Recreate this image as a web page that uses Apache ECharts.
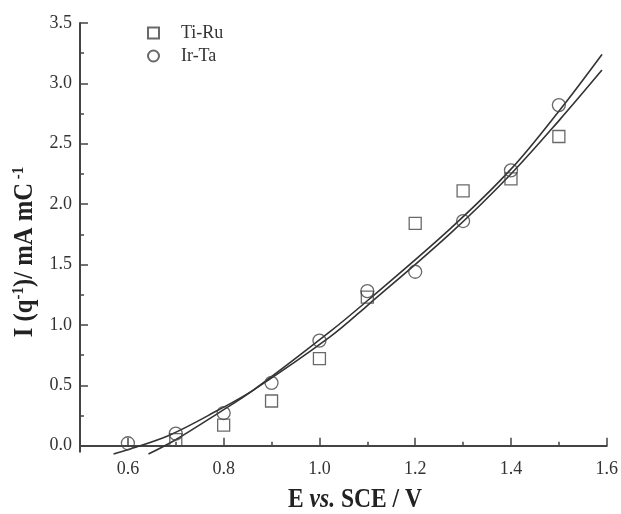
<!DOCTYPE html>
<html>
<head>
<meta charset="utf-8">
<script src="https://cdn.jsdelivr.net/npm/echarts@6/dist/echarts.min.js"></script>
<style>
html,body{margin:0;padding:0;background:#fff;}
#chart{width:621px;height:514px;}
</style>
</head>
<body>
<div id="chart"></div>
<script>
// ---- data ----
const potentials = [0.6, 0.7, 0.8, 0.9, 1.0, 1.1, 1.2, 1.3, 1.4, 1.5];
const tiRu = [null, 0.05, 0.17, 0.37, 0.72, 1.23, 1.84, 2.11, 2.21, 2.56];
const irTa = [0.02, 0.10, 0.27, 0.52, 0.87, 1.28, 1.44, 1.86, 2.28, 2.82];
// fitted curves
const fitA_E = [0.570, 0.598, 0.688, 0.789, 0.862, 1.022, 1.10, 1.274, 1.40, 1.502, 1.59];
const fitA_I = [-0.069, -0.036, 0.089, 0.295, 0.46, 0.90, 1.16, 1.76, 2.25, 2.70, 3.11];
const fitB_E = [0.643, 0.699, 0.789, 0.862, 1.022, 1.10, 1.274, 1.40, 1.502, 1.59];
const fitB_I = [-0.069, 0.047, 0.27, 0.46, 0.944, 1.20, 1.80, 2.29, 2.78, 3.24];
// ticks
const xMajor = [0.6, 0.8, 1.0, 1.2, 1.4, 1.6];
const xMinor = [0.7, 0.9, 1.1, 1.3, 1.5];
const yMajor = [0.0, 0.5, 1.0, 1.5, 2.0, 2.5, 3.0, 3.5];
const yMinor = [0.25, 0.75, 1.25, 1.75, 2.25, 2.75, 3.25];

const pair = (xs, ys) => xs.map((x, i) => [x, ys[i]]).filter(p => p[1] !== null);

const SERIF = '"Liberation Serif", "Times New Roman", serif';
const AX = '#444';
const TXT = '#333';

const chart = echarts.init(document.getElementById('chart'), null, {renderer: 'canvas'});

const xBase = {type: 'value', min: 0.5, max: 1.6, interval: 0.1, position: 'bottom', splitLine: {show: false}};
const yBase = {type: 'value', min: -0.05, max: 3.5, interval: 0.05, position: 'left', splitLine: {show: false}};

chart.setOption({
  animation: false,
  backgroundColor: '#fff',
  grid: {left: 80, right: 14, top: 23, bottom: 62.3},
  legend: {
    orient: 'vertical', left: 142, top: 19, itemWidth: 11, itemHeight: 11, itemGap: 5,
    data: ['Ti-Ru', 'Ir-Ta'],
    textStyle: {fontFamily: SERIF, fontSize: 18, color: TXT, padding: [0, 0, 0, 17]}
  },
  xAxis: [
    Object.assign({}, xBase, {
      axisLine: {show: true, lineStyle: {color: AX, width: 2}},
      axisTick: {show: true, inside: true, length: 8, lineStyle: {color: AX, width: 1.5}, customValues: xMajor},
      axisLabel: {show: true, margin: 9, customValues: xMajor, formatter: v => v.toFixed(1),
        fontFamily: SERIF, fontSize: 18, color: TXT}
    }),
    Object.assign({}, xBase, {
      axisLine: {show: false},
      axisTick: {show: true, inside: true, length: 4, lineStyle: {color: AX, width: 1.5}, customValues: xMinor},
      axisLabel: {show: false}
    })
  ],
  yAxis: [
    Object.assign({}, yBase, {
      axisLine: {show: true, lineStyle: {color: AX, width: 2}},
      axisTick: {show: true, inside: true, length: 8, lineStyle: {color: AX, width: 1.5}, customValues: yMajor},
      axisLabel: {show: true, margin: 8, customValues: yMajor, formatter: v => v.toFixed(1),
        fontFamily: SERIF, fontSize: 18, color: TXT}
    }),
    Object.assign({}, yBase, {
      axisLine: {show: false},
      axisTick: {show: true, inside: true, length: 4, lineStyle: {color: AX, width: 1.5}, customValues: yMinor},
      axisLabel: {show: false}
    })
  ],
  graphic: [
    {
      type: 'text', x: 355, y: 500, scaleX: 0.84,
      style: {
        text: '{b|E }{i|vs.}{b| SCE / V}', align: 'center', verticalAlign: 'middle',
        rich: {
          b: {fontFamily: SERIF, fontWeight: 'bold', fontSize: 28, fill: '#222'},
          i: {fontFamily: SERIF, fontWeight: 'bold', fontStyle: 'italic', fontSize: 28, fill: '#222'}
        }
      }
    },
    {
      type: 'text', x: 25, y: 252, scaleX: 0.88, rotation: Math.PI / 2,
      style: {
        text: '{m|I (q}{s|-1}{m|)/ mA mC}{s| -1}', align: 'center', verticalAlign: 'middle',
        rich: {
          m: {fontFamily: SERIF, fontWeight: 'bold', fontSize: 28, lineHeight: 30, fill: '#222'},
          s: {fontFamily: SERIF, fontWeight: 'bold', fontSize: 17, lineHeight: 17, verticalAlign: 'top', fill: '#222'}
        }
      }
    }
  ],
  series: [
    {
      name: 'Ti-Ru fit', type: 'line', smooth: 0.35, showSymbol: false, clip: false,
      data: pair(fitA_E, fitA_I), lineStyle: {color: '#333', width: 1.6}, z: 2
    },
    {
      name: 'Ir-Ta fit', type: 'line', smooth: 0.35, showSymbol: false, clip: false,
      data: pair(fitB_E, fitB_I), lineStyle: {color: '#333', width: 1.6}, z: 2
    },
    {
      name: 'Ti-Ru', type: 'scatter', symbol: 'rect', symbolSize: 12,
      data: pair(potentials, tiRu),
      itemStyle: {color: 'rgba(0,0,0,0)', borderColor: '#444', borderWidth: 1.3}, z: 3
    },
    {
      name: 'Ir-Ta', type: 'scatter', symbol: 'circle', symbolSize: 13,
      data: pair(potentials, irTa),
      itemStyle: {color: 'rgba(0,0,0,0)', borderColor: '#444', borderWidth: 1.3}, z: 3
    }
  ]
});
</script>
</body>
</html>
